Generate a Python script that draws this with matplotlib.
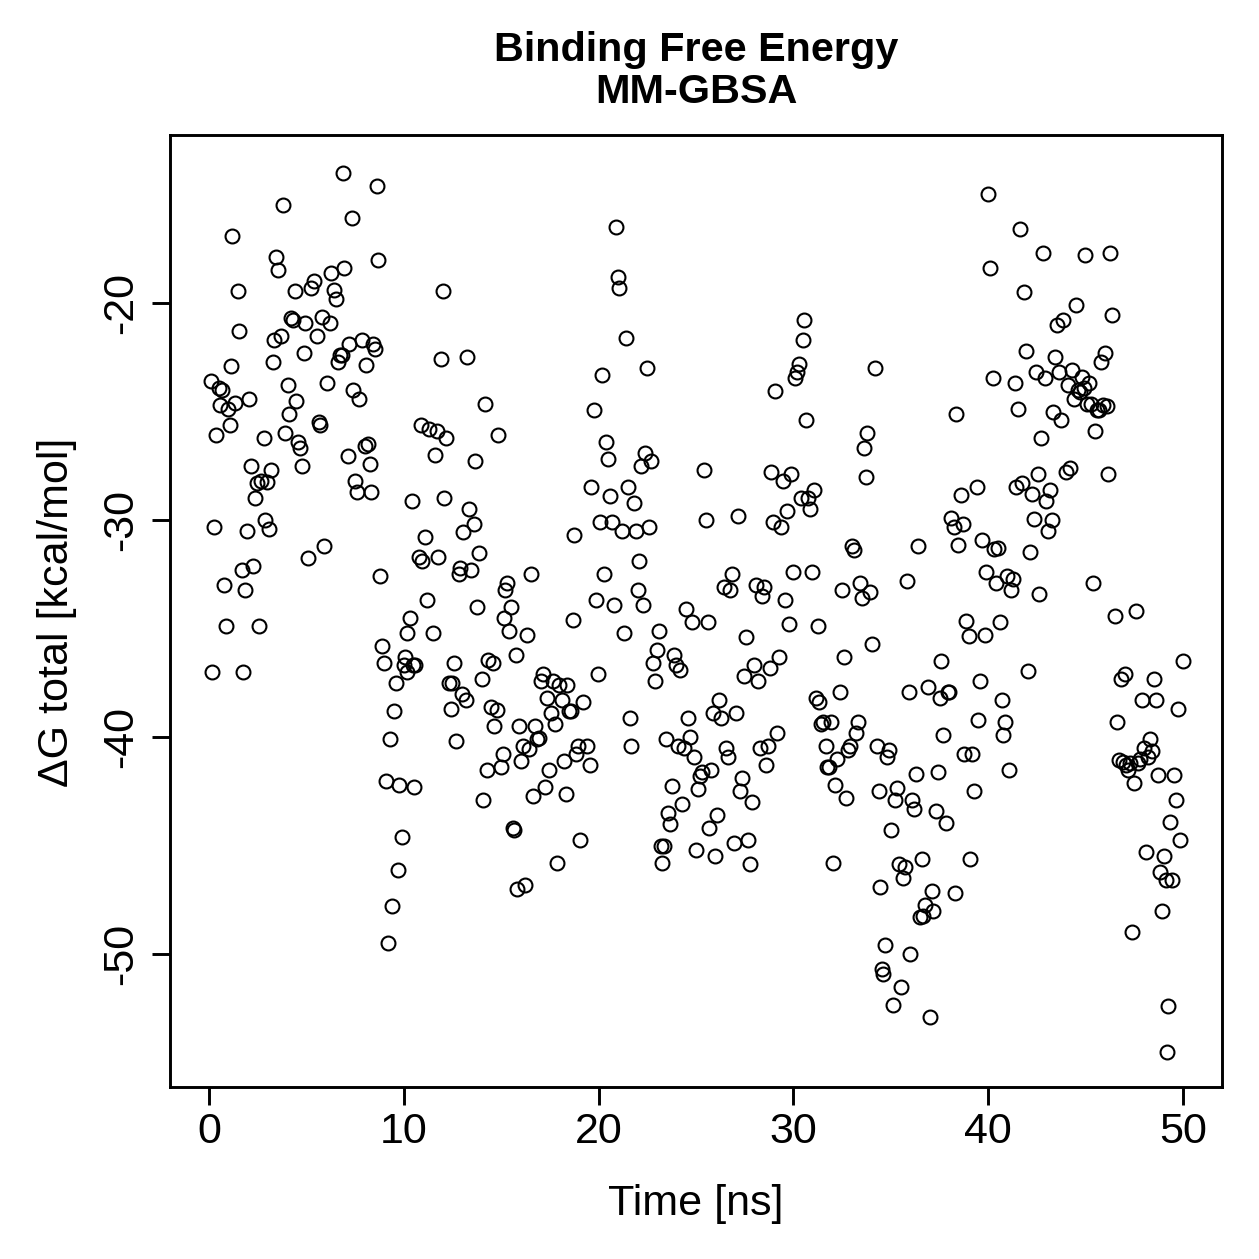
import matplotlib
matplotlib.use("Agg")
import matplotlib.pyplot as plt

plt.rcParams['font.family'] = ['Liberation Sans', 'DejaVu Sans']
plt.rcParams['axes.unicode_minus'] = False

title = "Binding Free Energy\nMM-GBSA"
xlabel = "Time [ns]"
ylabel = "ΔG total [kcal/mol]"
xticks = [0, 10, 20, 30, 40, 50]
yticks = [-50, -40, -30, -20]

time_ns = [
    0.10, 0.15, 0.26, 0.36, 0.51, 0.56, 0.67, 0.77, 0.87, 0.97,
    1.08, 1.13, 1.18, 1.33, 1.49, 1.54, 1.69, 1.74, 1.84, 1.95,
    2.05, 2.15, 2.25, 2.36, 2.46, 2.56, 2.66, 2.82, 2.87, 2.97,
    3.07, 3.18, 3.28, 3.33, 3.43, 3.53, 3.69, 3.79, 3.89, 4.05,
    4.10, 4.20, 4.30, 4.41, 4.46, 4.56, 4.66, 4.76, 4.87, 4.92,
    5.07, 5.23, 5.38, 5.53, 5.64, 5.69, 5.79, 5.89, 6.05, 6.20,
    6.25, 6.40, 6.51, 6.61, 6.71, 6.81, 6.92, 6.86, 7.12, 7.17,
    7.33, 7.38, 7.48, 7.58, 7.68, 7.84, 7.99, 8.04, 8.15, 8.25,
    8.30, 8.40, 8.50, 8.61, 8.66, 8.76, 8.86, 8.97, 9.07, 9.17,
    9.27, 9.38, 9.48, 9.58, 9.68, 9.73, 9.89, 9.99, 10.04, 10.14,
    10.19, 10.30, 10.40, 10.45, 10.55, 10.60, 10.76, 10.86, 10.96, 11.07,
    11.17, 11.27, 11.48, 11.58, 11.68, 11.78, 11.89, 11.99, 12.09, 12.19,
    12.30, 12.40, 12.50, 12.60, 12.70, 12.81, 12.91, 13.01, 13.06, 13.17,
    13.27, 13.37, 13.47, 13.58, 13.68, 13.78, 13.88, 13.99, 14.09, 14.19,
    14.29, 14.34, 14.50, 14.60, 14.65, 14.81, 14.86, 15.01, 15.11, 15.16,
    15.22, 15.32, 15.42, 15.52, 15.63, 15.68, 15.78, 15.83, 15.93, 16.03,
    16.14, 16.24, 16.34, 16.44, 16.55, 16.65, 16.75, 16.85, 16.96, 17.06,
    17.16, 17.26, 17.37, 17.47, 17.57, 17.67, 17.78, 17.88, 17.98, 18.14,
    18.24, 18.34, 18.39, 18.49, 18.60, 18.70, 18.75, 18.85, 18.95, 19.06,
    19.21, 19.42, 19.57, 19.62, 19.77, 19.88, 19.98, 20.08, 20.18, 20.29,
    20.39, 20.49, 20.59, 20.70, 20.80, 20.90, 21.00, 21.06, 21.21, 21.31,
    21.41, 21.52, 21.62, 21.67, 21.82, 21.93, 22.03, 22.08, 22.18, 22.28,
    22.39, 22.49, 22.59, 22.69, 22.80, 22.90, 23.00, 23.10, 23.21, 23.26,
    23.36, 23.46, 23.57, 23.67, 23.77, 23.87, 23.98, 24.08, 24.18, 24.28,
    24.39, 24.49, 24.59, 24.69, 24.80, 24.90, 25.00, 25.10, 25.20, 25.31,
    25.41, 25.51, 25.61, 25.67, 25.77, 25.87, 25.97, 26.08, 26.18, 26.28,
    26.43, 26.54, 26.64, 26.74, 26.84, 26.95, 27.05, 27.15, 27.25, 27.36,
    27.46, 27.56, 27.66, 27.77, 27.87, 27.97, 28.07, 28.18, 28.28, 28.38,
    28.48, 28.59, 28.69, 28.79, 28.84, 28.94, 29.05, 29.15, 29.25, 29.35,
    29.46, 29.56, 29.66, 29.76, 29.87, 29.97, 30.07, 30.17, 30.28, 30.38,
    30.48, 30.53, 30.64, 30.74, 30.84, 30.94, 31.05, 31.15, 31.25, 31.30,
    31.40, 31.51, 31.66, 31.71, 31.81, 31.92, 32.02, 32.12, 32.22, 32.38,
    32.48, 32.58, 32.68, 32.79, 32.89, 32.99, 33.09, 33.20, 33.30, 33.40,
    33.50, 33.61, 33.71, 33.76, 33.91, 34.02, 34.17, 34.27, 34.38, 34.43,
    34.53, 34.58, 34.68, 34.78, 34.89, 34.99, 35.09, 35.19, 35.30, 35.40,
    35.50, 35.60, 35.71, 35.81, 35.91, 36.01, 36.07, 36.17, 36.27, 36.37,
    36.48, 36.58, 36.63, 36.73, 36.89, 36.99, 37.09, 37.19, 37.30, 37.40,
    37.50, 37.60, 37.70, 37.81, 37.91, 38.01, 38.11, 38.22, 38.27, 38.37,
    38.47, 38.58, 38.68, 38.78, 38.88, 38.99, 39.09, 39.19, 39.29, 39.40,
    39.50, 39.60, 39.70, 39.81, 39.91, 40.01, 40.11, 40.22, 40.32, 40.42,
    40.52, 40.63, 40.73, 40.78, 40.88, 40.98, 41.09, 41.19, 41.29, 41.39,
    41.44, 41.55, 41.65, 41.75, 41.85, 41.96, 42.06, 42.16, 42.26, 42.37,
    42.47, 42.57, 42.62, 42.73, 42.83, 42.93, 42.98, 43.08, 43.19, 43.29,
    43.34, 43.44, 43.55, 43.65, 43.75, 43.85, 44.01, 44.11, 44.21, 44.31,
    44.42, 44.52, 44.62, 44.72, 44.83, 44.93, 44.98, 45.08, 45.18, 45.29,
    45.39, 45.49, 45.59, 45.70, 45.80, 45.90, 46.00, 46.11, 46.16, 46.26,
    46.36, 46.52, 46.62, 46.72, 46.82, 46.93, 47.03, 47.08, 47.18, 47.28,
    47.39, 47.49, 47.59, 47.69, 47.80, 47.90, 48.00, 48.10, 48.21, 48.31,
    48.41, 48.51, 48.62, 48.72, 48.82, 48.92, 49.03, 49.13, 49.23, 49.18,
    49.33, 49.44, 49.54, 49.64, 49.74, 49.85, 50.00,
]

dg_total = [
    -23.6, -37.0, -30.3, -26.1, -23.9, -24.7, -24.0, -33.0, -34.9, -24.9,
    -25.6, -22.9, -16.9, -24.6, -19.45, -21.3, -32.3, -37.0, -33.2, -30.5,
    -24.4, -27.5, -32.1, -29.0, -28.3, -34.9, -28.2, -26.2, -30.0, -28.25,
    -30.4, -27.7, -22.7, -21.7, -17.9, -18.5, -21.5, -15.5, -26.0, -23.8,
    -25.1, -20.7, -20.8, -19.45, -24.5, -26.4, -26.7, -27.5, -22.3, -20.9,
    -31.75, -19.3, -19.0, -21.5, -25.5, -25.6, -20.65, -31.2, -23.7, -20.9,
    -18.6, -19.4, -19.8, -22.7, -22.4, -22.4, -18.4, -14.0, -27.05, -21.9,
    -16.1, -24.0, -28.2, -28.7, -24.4, -21.7, -26.6, -22.85, -26.5, -27.4,
    -28.7, -21.9, -22.1, -14.6, -18.0, -32.6, -35.8, -36.6, -42.0, -49.5,
    -40.1, -47.8, -38.8, -37.5, -46.1, -42.2, -44.6, -36.7, -36.3, -35.2,
    -37.0, -34.5, -29.1, -36.7, -42.3, -36.7, -31.7, -25.6, -31.9, -30.8,
    -33.7, -25.8, -35.2, -27.0, -25.9, -31.7, -22.6, -19.45, -29.0, -26.2,
    -37.5, -38.7, -37.5, -36.6, -40.2, -32.5, -32.2, -38.0, -30.55, -38.3,
    -22.5, -29.5, -32.3, -30.2, -27.3, -34.0, -31.5, -37.3, -42.9, -24.65,
    -41.5, -36.45, -38.6, -36.6, -39.5, -38.75, -26.1, -41.4, -40.8, -34.5,
    -33.2, -32.9, -35.1, -34.0, -44.2, -44.3, -36.2, -47.0, -39.5, -41.1,
    -40.4, -46.8, -35.3, -40.55, -32.5, -42.7, -39.5, -40.1, -40.05, -37.4,
    -37.1, -42.3, -38.2, -41.5, -38.9, -37.4, -39.4, -45.8, -37.6, -38.3,
    -41.1, -42.6, -37.6, -38.8, -38.8, -34.6, -30.7, -40.8, -40.4, -44.75,
    -38.4, -40.4, -41.3, -28.5, -24.95, -33.7, -37.1, -30.1, -23.3, -32.5,
    -26.4, -27.2, -28.9, -30.1, -33.9, -16.5, -18.8, -19.3, -30.5, -35.2,
    -21.6, -28.5, -39.1, -40.4, -29.2, -30.5, -33.2, -31.9, -27.5, -33.9,
    -26.9, -23.0, -30.3, -27.3, -36.6, -37.4, -36.0, -35.1, -45.0, -45.8,
    -45.0, -40.1, -43.5, -44.0, -42.25, -36.2, -36.7, -40.4, -36.9, -43.1,
    -40.5, -34.1, -39.1, -40.0, -34.7, -40.9, -45.2, -42.4, -41.8, -41.6,
    -27.7, -30.0, -34.7, -44.2, -41.5, -38.9, -45.5, -43.6, -38.3, -39.1,
    -33.1, -40.5, -40.9, -33.2, -32.5, -44.9, -38.9, -29.8, -42.5, -41.9,
    -37.2, -35.4, -44.75, -45.85, -43.0, -36.7, -33.0, -37.4, -40.5, -33.5,
    -33.1, -41.3, -40.4, -36.8, -27.8, -30.1, -24.05, -39.8, -36.3, -30.3,
    -28.2, -33.7, -29.6, -34.8, -27.9, -32.4, -23.45, -23.2, -22.8, -29.0,
    -21.7, -20.8, -25.4, -29.0, -29.5, -32.4, -28.6, -38.2, -34.9, -38.4,
    -39.4, -39.3, -40.4, -41.4, -41.4, -39.3, -45.8, -42.2, -41.0, -37.9,
    -33.2, -36.3, -42.8, -40.6, -40.4, -31.2, -31.4, -39.8, -39.3, -32.9,
    -33.6, -26.7, -28.0, -26.0, -33.3, -35.7, -23.0, -40.4, -42.5, -46.9,
    -50.7, -50.9, -49.6, -40.9, -40.6, -44.3, -52.35, -42.9, -42.35, -45.85,
    -51.5, -46.5, -46.0, -32.8, -37.9, -50.0, -42.9, -43.3, -41.7, -31.2,
    -48.3, -45.6, -48.25, -47.75, -37.7, -52.9, -47.1, -48.0, -43.4, -41.6,
    -38.2, -36.5, -39.9, -43.95, -37.9, -37.9, -29.9, -30.3, -47.2, -25.1,
    -31.15, -28.85, -30.2, -40.8, -34.65, -35.35, -45.6, -40.8, -42.5, -28.5,
    -39.2, -37.4, -30.9, -35.3, -32.4, -15.0, -18.4, -23.45, -31.35, -32.9,
    -31.3, -34.7, -38.3, -39.9, -39.3, -32.6, -41.5, -33.2, -32.7, -23.7,
    -28.5, -24.9, -16.6, -28.3, -19.5, -22.2, -36.95, -31.45, -28.8, -29.95,
    -23.2, -27.9, -33.4, -26.2, -17.7, -23.45, -29.1, -30.5, -28.6, -30.0,
    -25.0, -22.5, -21.0, -23.2, -25.4, -20.8, -27.8, -23.8, -27.6, -23.1,
    -24.4, -20.1, -24.0, -24.1, -23.4, -23.9, -17.8, -24.65, -23.7, -24.65,
    -32.9, -25.9, -24.95, -24.95, -22.7, -24.7, -22.3, -24.75, -27.9, -17.7,
    -20.55, -34.4, -39.3, -41.05, -37.3, -41.15, -37.1, -41.3, -41.5, -41.2,
    -49.0, -42.1, -34.2, -41.2, -41.0, -38.3, -40.5, -45.3, -40.9, -40.1,
    -40.65, -37.3, -38.3, -41.75, -46.2, -48.0, -45.5, -46.6, -52.4, -54.5,
    -43.9, -46.6, -41.75, -42.9, -38.7, -44.75, -36.5,
]

W = H = 1259
dpi = 200
fig = plt.figure(figsize=(W / dpi, H / dpi), dpi=dpi)
ax = fig.add_axes([170 / W, 1 - 1087 / H, (1222 - 170) / W, (1087 - 135) / H])

ax.plot(time_ns, dg_total, linestyle='none', marker='o', markersize=5.0,
        markerfacecolor='none', markeredgecolor='black', markeredgewidth=0.75)

ax.set_xlim(-2, 52)
ax.set_ylim(-56.12, -12.26)
ax.set_xticks(xticks)
ax.set_yticks(yticks)
ax.set_xticklabels([str(v) for v in xticks])
ax.set_yticklabels([str(v) for v in yticks], rotation=90, va='center')

for s in ax.spines.values():
    s.set_linewidth(1.05)
ax.tick_params(axis='both', direction='out', length=6.5, width=1.05,
               labelsize=15.5, color='black')
ax.tick_params(axis='x', pad=2.5)
ax.tick_params(axis='y', pad=4)

fig.text((170 + 1222) / 2 / W, 1 - 1215 / H, xlabel, fontsize=15.5,
         ha='center', va='baseline')
fig.text(68 / W, 1 - 612 / H, ylabel, fontsize=15.5, rotation=90,
         rotation_mode='anchor', ha='center', va='baseline')

fig.text(0.5 * (170 + 1222) / W, 1 - 71 / H, title, ha='center', va='center',
         fontsize=14.9, fontweight='bold', linespacing=1.12)

fig.savefig("out.png", dpi=dpi)
